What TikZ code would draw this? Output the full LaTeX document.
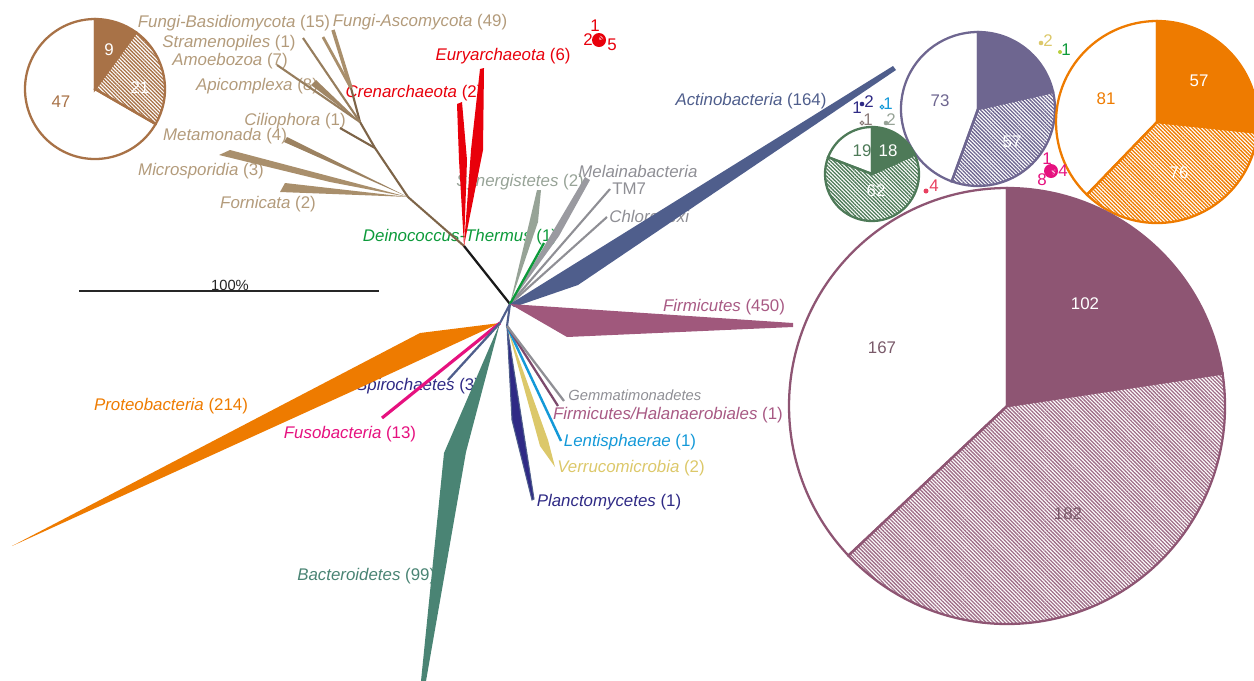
\documentclass[tikz,border=0pt]{standalone}
\usepackage{fontspec}
\setmainfont{Liberation Sans}
\usetikzlibrary{patterns.meta}

\definecolor{cEuk}{HTML}{B39B7B}
\definecolor{cEukLine}{HTML}{7D6448}
\definecolor{cEukLeaf}{HTML}{A98F6C}
\definecolor{cEukPie}{HTML}{A87247}
\definecolor{cArch}{HTML}{E8000B}
\definecolor{cActino}{HTML}{4F5E8C}
\definecolor{cActPie}{HTML}{6E6690}
\definecolor{cFirm}{HTML}{A0587C}
\definecolor{cFirmPie}{HTML}{8E5573}
\definecolor{cFirmTxt}{HTML}{7A5A6A}
\definecolor{cProteo}{HTML}{EE7B00}
\definecolor{cFuso}{HTML}{E6117F}
\definecolor{cSpiro}{HTML}{2F2A85}
\definecolor{cBact}{HTML}{4A8474}
\definecolor{cBactPie}{HTML}{4E7A58}
\definecolor{cVerru}{HTML}{DCC86A}
\definecolor{cLenti}{HTML}{1499D8}
\definecolor{cHalan}{HTML}{7C4A6C}
\definecolor{cHalTxt}{HTML}{A85A84}
\definecolor{cGray}{HTML}{8F8F95}
\definecolor{cSyner}{HTML}{97A397}
\definecolor{cDeino}{HTML}{0C9A3A}
\definecolor{cDot}{HTML}{E84060}
\definecolor{cDotGray}{HTML}{8A7A78}
\definecolor{cLime}{HTML}{B8D040}

\def\px{0.02}

\newcommand\pieslice[5]{%
  \path[#5] (#1) -- ++({-(#3)}:#2) arc[start angle={-(#3)}, end angle={-(#4)}, radius=#2] -- cycle;}

\begin{document}
\begin{tikzpicture}[x=\px cm, y=-\px cm,
    every node/.style={inner sep=0pt},
    lbl/.style={font=\fontsize{9.6}{11}\selectfont},
    lblsmall/.style={font=\fontsize{8.4}{10}\selectfont},
    hatch/.style={pattern={Lines[angle=-45,distance=1.5pt,line width=0.75pt]}, pattern color=#1},
    branch/.style={line width=1.2pt},
    pieline/.style={draw=#1, line width=1.3pt}]
  \useasboundingbox (0,0) rectangle (1254,680);
  \clip (0,0) rectangle (1254,680);

  \node[lbl, text=cEuk] (lBasid) at (234,23) {\textit{Fungi-Basidiomycota} (15)};
  \node[lbl, text=cEuk] (lAsco) at (420,22) {\textit{Fungi-Ascomycota} (49)};
  \node[lbl, text=cEuk] (lStram) at (229,43) {\textit{Stramenopiles} (1)};
  \node[lbl, text=cEuk] (lAmoeb) at (230,61) {\textit{Amoebozoa} (7)};
  \node[lbl, text=cEuk] (lApic) at (257,86) {\textit{Apicomplexa} (8)};
  \node[lbl, text=cEuk] (lCilio) at (295,121) {\textit{Ciliophora} (1)};
  \node[lbl, text=cEuk] (lMeta) at (225,136) {\textit{Metamonada} (4)};
  \node[lbl, text=cEuk] (lMicro) at (201,171) {\textit{Microsporidia} (3)};
  \node[lbl, text=cEuk] (lForn) at (268,204) {\textit{Fornicata} (2)};
  \node[lbl, text=cArch] (lCren) at (414,93) {\textit{Crenarchaeota} (2)};
  \node[lbl, text=cArch] (lEury) at (503,56) {\textit{Euryarchaeota} (6)};
  \node[lbl, text=cActino] (lActino) at (751,101) {\textit{Actinobacteria} (164)};
  \node[lbl, text=cGray, anchor=west] (lMelain) at (578,171) {\textit{Melainabacteria}};
  \node[lbl, text=cGray, anchor=west] (lTM) at (612,189) {TM7};
  \node[lbl, text=cGray, anchor=west] (lChloro) at (609,216) {\textit{Chloroflexi}};
  \node[lbl, text=cSyner] (lSyner) at (520,182) {\textit{Synergistetes} (2)};
  \node[lbl, text=cDeino] (lDeino) at (460,237) {\textit{Deinococcus-Thermus} (1)};
  \node[lbl, text=cHalTxt] (lFirm) at (724,307) {\textit{Firmicutes} (450)};
  \node[lbl, text=cProteo] (lProteo) at (171,406) {\textit{Proteobacteria} (214)};
  \node[lbl, text=cFuso] (lFuso) at (350,434) {\textit{Fusobacteria} (13)};
  \node[lbl, text=cSpiro] (lSpiro) at (418,386) {\textit{Spirochaetes} (3)};
  \node[lbl, text=cBact, anchor=west] (lBact) at (297,576) {\textit{Bacteroidetes} (99)};
  \node[lblsmall, text=cGray, anchor=west] (lGemm) at (568,395) {\textit{Gemmatimonadetes}};
  \node[lbl, text=cHalTxt] (lHalan) at (668,415) {\textit{Firmicutes/Halanaerobiales} (1)};
  \node[lbl, text=cLenti] (lLenti) at (630,442) {\textit{Lentisphaerae} (1)};
  \node[lbl, text=cVerru] (lVerru) at (631,468) {\textit{Verrucomicrobia} (2)};
  \node[lbl, text=cSpiro] (lPlanc) at (609,502) {\textit{Planctomycetes} (1)};

  \coordinate (nE) at (464,246);
  \coordinate (nA) at (510,304);
  \coordinate (nB) at (500,323);
  \coordinate (nC) at (507,326);
  \coordinate (nK) at (408,197);
  \coordinate (nK2) at (375,148);
  \coordinate (nK3) at (360,122);
  \coordinate (nK4) at (351,88);
  \coordinate (tCilio) at (340,128);
  \coordinate (tAmoeb) at (277,65);
  \coordinate (tStram) at (303,38);
  \coordinate (tBasid) at (323,37);
  \coordinate (tAsco) at (333,30);
  \coordinate (tTM) at (610,189);
  \coordinate (tChloro) at (607,217);
  \coordinate (tDeino) at (544,243);
  \coordinate (tFuso) at (382,418);
  \coordinate (tSpiro) at (448,380);
  \coordinate (tLenti) at (561,441);
  \coordinate (tHalan) at (558,406);
  \coordinate (tGemm) at (564,401);

  \draw[branch, cEukLine] (nE) -- (nK) -- (nK2) -- (nK3) -- (nK4);
  \fill[cEukLeaf] (nK) -- (285,183) -- (280,192) -- (385,196) -- cycle;
  \fill[cEukLeaf] (nK) -- (230,150) -- (219,155) -- (330,182) -- cycle;
  \fill[cEukLeaf!70!cEukLine] (nK) -- (287,137) -- (284,142) -- cycle;
  \draw[branch, cEukLine] (nK2) -- (tCilio);
  \fill[cEukLeaf!80!cEukLine] (nK3) -- (316,80) -- (311,85) -- cycle;
  \draw[branch, cEukLeaf!60!cEukLine] (nK3) -- (tAmoeb);
  \draw[branch, cEukLeaf!60!cEukLine] (nK3) -- (tStram);
  \draw[cEukLeaf, line width=1.6pt] (nK4) -- (tBasid);
  \draw[cEukLeaf, line width=2pt] (nK4) -- (tAsco);

  \fill[cArch] (nE) -- (459,160) -- (457,104) -- (462,102) -- (467,160) -- cycle;
  \fill[cArch] (nE) -- (471,150) -- (480,69) -- (484,68) -- (483,150) -- cycle;
  \draw[line width=1.3pt, black!90] (nE) -- (nA);

  \draw[branch, cActino] (nA) -- (nB);
  \draw[branch, cActino] (nA) -- (nC);
  \fill[cSyner] (nA) -- (537,190) -- (541,190) -- (538,222) -- cycle;
  \fill[cGray!90] (nA) -- (585,177) -- (590,180) -- (559,236) -- cycle;
  \draw[branch, cGray] (nA) -- (tTM);
  \draw[branch, cGray] (nA) -- (tChloro);
  \draw[cDeino, line width=1.3pt] (nA) -- (tDeino);
  \fill[cActino] (nA) -- (893,66) -- (896,70) -- (578,285) -- (514,307) -- cycle;
  \fill[cFirm] (nA) -- (793,323) -- (793,327) -- (567,337) -- cycle;

  \fill[cProteo] (nB) -- (420,333) -- (12,546) -- (355,390) -- cycle;
  \draw[cFuso, line width=1.8pt] (nB) -- (tFuso);
  \draw[cActino, line width=1.3pt] (nB) -- (tSpiro);
  \fill[cBact] (nB) -- (444,453) -- (421,681) -- (426,681) -- (466,452) -- cycle;

  \filldraw[fill=cSpiro, draw=cActino, line width=0.6pt] (nC) -- (512,420) -- (532,500) -- (534,499) -- (522,422) -- cycle;
  \fill[cVerru] (nC) -- (540,446) -- (555,467) -- (548,440) -- cycle;
  \draw[cLenti, line width=1.4pt] (nC) -- (tLenti);
  \draw[cHalan, line width=1.3pt] (nC) -- (tHalan);
  \draw[cGray, line width=1.3pt] (nC) -- (tGemm);

  \coordinate (sb1) at (79,291);
  \coordinate (sb2) at (379,291);
  \draw[line width=1.4pt, black!85] (sb1) -- (sb2);
  \node[lblsmall, text=black!85] (lScale) at (230,285) {100\%};

  \coordinate (pEuk) at (95,89);
  \pieslice{pEuk}{70}{90}{54}{fill=cEukPie, pieline=cEukPie}
  \pieslice{pEuk}{70}{54}{-30}{hatch=cEukPie, pieline=cEukPie}
  \pieslice{pEuk}{70}{-30}{-270}{pieline=cEukPie}
  \node[lbl, text=white] (nEuk1) at (109,50) {9};
  \node[lbl, text=white] (nEuk2) at (140,88) {21};
  \node[lbl, text=cEukPie] (nEuk3) at (61,102) {47};

  \coordinate (pActino) at (978,109);
  \pieslice{pActino}{77}{90}{12.8}{fill=cActPie, pieline=cActPie}
  \pieslice{pActino}{77}{12.8}{-110}{hatch=cActPie, pieline=cActPie}
  \pieslice{pActino}{77}{-110}{-270}{pieline=cActPie}
  \node[lbl, text=white] (nAct2) at (1012,142) {57};
  \node[lbl, text=cActPie] (nAct3) at (940,101) {73};

  \coordinate (pProteo) at (1157,122);
  \pieslice{pProteo}{101}{90}{-6}{fill=cProteo, pieline=cProteo}
  \pieslice{pProteo}{101}{-6}{-134}{hatch=cProteo, pieline=cProteo}
  \pieslice{pProteo}{101}{-134}{-270}{pieline=cProteo}
  \node[lbl, text=white] (nPro1) at (1199,81) {57};
  \node[lbl, text=white] (nPro2) at (1179,173) {76};
  \node[lbl, text=cProteo] (nPro3) at (1106,99) {81};

  \coordinate (pBact) at (872,174);
  \pieslice{pBact}{47}{90}{24.5}{fill=cBactPie, pieline=cBactPie}
  \pieslice{pBact}{47}{24.5}{-201}{hatch=cBactPie, pieline=cBactPie}
  \pieslice{pBact}{47}{-201}{-270}{pieline=cBactPie}
  \node[lbl, text=white] (nBac1) at (888,151) {18};
  \node[lbl, text=white] (nBac2) at (876,191) {62};
  \node[lbl, text=cBactPie] (nBac3) at (862,151) {19};

  \coordinate (pFirm) at (1007,406);
  \pieslice{pFirm}{218}{90}{8.6}{fill=cFirmPie, pieline=cFirmPie}
  \pieslice{pFirm}{218}{8.6}{-136.7}{hatch=cFirmPie!85, pieline=cFirmPie}
  \pieslice{pFirm}{218}{-136.7}{-270}{pieline=cFirmPie}
  \node[lbl, text=white] (nFir1) at (1085,304) {102};
  \node[lbl, text=cFirmTxt] (nFir2) at (1068,514) {182};
  \node[lbl, text=cFirmTxt] (nFir3) at (882,348) {167};

  \coordinate (pArch) at (599,40);
  \fill[cArch] (pArch) circle[radius=7];
  \pieslice{pArch}{4.5}{80}{10}{hatch=white!70!cArch}
  \node[lbl, text=cArch] (nArc1) at (595,26) {1};
  \node[lbl, text=cArch] (nArc2) at (588,40) {2};
  \node[lbl, text=cArch] (nArc3) at (612,45) {5};

  \coordinate (pFuso) at (1051,171);
  \fill[cFuso] (pFuso) circle[radius=7];
  \pieslice{pFuso}{4.5}{20}{-60}{hatch=white!70!cFuso}
  \node[lbl, text=cFuso] (nFus1) at (1047,159) {1};
  \node[lbl, text=cFuso] (nFus2) at (1042,180) {8};
  \node[lbl, text=cFuso] (nFus3) at (1063,171) {4};

  \fill[cSpiro] (862,104) circle[radius=2.3];
  \node[lbl, text=cSpiro] (nSpi1) at (857,108) {1};
  \node[lbl, text=cSpiro] (nSpi2) at (869,102) {2};
  \draw[cLenti, line width=0.6pt] (882,107) circle[radius=1.8];
  \node[lbl, text=cLenti] (nLen1) at (888,104) {1};
  \draw[cDotGray, line width=0.6pt] (862,123) circle[radius=1.8];
  \node[lbl, text=cDotGray] (nHal1) at (868,120) {1};
  \fill[cSyner] (886,123) circle[radius=2.3];
  \node[lbl, text=cSyner] (nSyn1) at (891,120) {2};
  \fill[cVerru] (1041,43) circle[radius=2.3];
  \node[lbl, text=cVerru] (nVer1) at (1048,41) {2};
  \fill[cLime] (1060,52) circle[radius=2];
  \node[lbl, text=cDeino] (nDei1) at (1066,50) {1};
  \fill[cDot] (926,191) circle[radius=2.5];
  \node[lbl, text=cDot] (nDot1) at (934,186) {4};
\end{tikzpicture}
\end{document}
